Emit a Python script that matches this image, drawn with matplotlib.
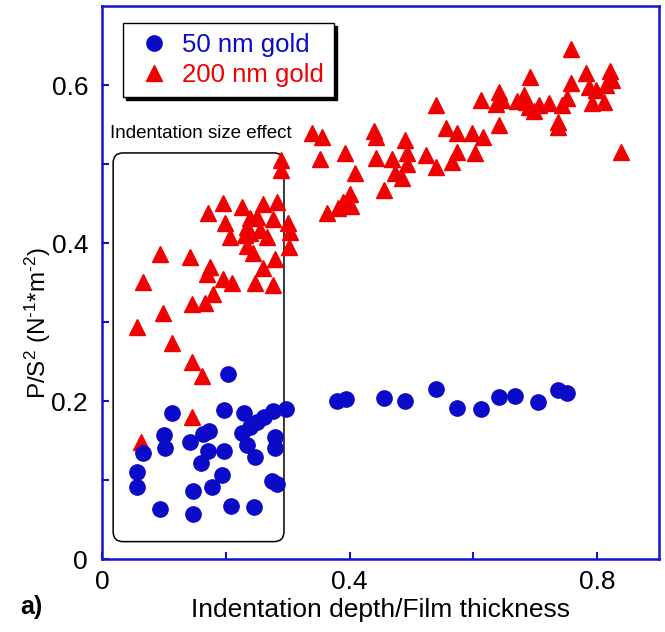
import matplotlib
matplotlib.use("Agg")
import matplotlib.pyplot as plt
import matplotlib.patches as mpatches
import numpy as np

plt.rcParams['font.family'] = ['Liberation Sans', 'DejaVu Sans']
plt.rcParams['mathtext.fontset'] = 'custom'
plt.rcParams['mathtext.rm'] = 'Liberation Sans'
plt.rcParams['mathtext.it'] = 'Liberation Sans:italic'

BLUE = "#0a0ac8"
RED = "#f00000"
SPINE = "#1414c8"

# 50 nm gold (circles)
x50 = [0.203, 0.113, 0.197, 0.229, 0.298, 0.276, 0.261, 0.250, 0.239, 0.226,
       0.173, 0.163, 0.100, 0.102, 0.142, 0.066, 0.171, 0.197, 0.234, 0.279,
       0.279, 0.247, 0.160, 0.056, 0.056, 0.194, 0.177, 0.274, 0.282, 0.147,
       0.094, 0.147, 0.208, 0.245,
       0.379, 0.394, 0.455, 0.489, 0.539, 0.573, 0.613, 0.642, 0.668, 0.705,
       0.737, 0.752]
y50 = [0.234, 0.185, 0.189, 0.185, 0.190, 0.187, 0.180, 0.174, 0.167, 0.159,
       0.162, 0.158, 0.157, 0.141, 0.148, 0.134, 0.137, 0.137, 0.144, 0.154,
       0.140, 0.129, 0.122, 0.110, 0.091, 0.106, 0.091, 0.099, 0.095, 0.086,
       0.063, 0.057, 0.067, 0.066,
       0.200, 0.203, 0.204, 0.200, 0.215, 0.191, 0.190, 0.205, 0.206, 0.199,
       0.214, 0.210]

# 200 nm gold (triangles)
x200 = [0.063, 0.145, 0.161, 0.145, 0.113, 0.056, 0.098, 0.145, 0.166, 0.179,
        0.066, 0.195, 0.210, 0.247, 0.277, 0.094, 0.142, 0.174, 0.169, 0.260,
        0.279, 0.235, 0.244, 0.302, 0.206, 0.231, 0.266, 0.234, 0.239, 0.255,
        0.303, 0.198, 0.239, 0.250, 0.276, 0.300, 0.171, 0.195, 0.227, 0.260,
        0.282, 0.290, 0.290,
        0.339, 0.355, 0.352, 0.392, 0.440, 0.442, 0.408, 0.442, 0.468, 0.489,
        0.492, 0.492, 0.474, 0.485, 0.456, 0.524, 0.539, 0.540, 0.556, 0.574,
        0.573, 0.566, 0.598, 0.603, 0.400, 0.389, 0.381, 0.403, 0.363,
        0.615, 0.613, 0.642, 0.637, 0.647, 0.671, 0.682, 0.692, 0.685, 0.698,
        0.706, 0.723, 0.744, 0.752, 0.758, 0.758, 0.782, 0.821, 0.787, 0.798,
        0.815, 0.824, 0.792, 0.811, 0.642, 0.737, 0.737, 0.839, 0.690]
y200 = [0.148, 0.180, 0.232, 0.249, 0.273, 0.294, 0.311, 0.323, 0.324, 0.335,
        0.351, 0.354, 0.349, 0.349, 0.347, 0.386, 0.382, 0.370, 0.361, 0.368,
        0.380, 0.396, 0.387, 0.395, 0.408, 0.410, 0.408, 0.420, 0.413, 0.416,
        0.414, 0.425, 0.432, 0.433, 0.430, 0.425, 0.438, 0.451, 0.446, 0.449,
        0.452, 0.505, 0.492,
        0.539, 0.534, 0.506, 0.514, 0.542, 0.534, 0.489, 0.508, 0.506, 0.530,
        0.514, 0.500, 0.489, 0.482, 0.467, 0.511, 0.496, 0.575, 0.546, 0.539,
        0.515, 0.503, 0.539, 0.514, 0.462, 0.452, 0.444, 0.447, 0.438,
        0.534, 0.581, 0.591, 0.576, 0.581, 0.580, 0.587, 0.610, 0.578, 0.567,
        0.575, 0.577, 0.575, 0.584, 0.646, 0.603, 0.615, 0.618, 0.597, 0.594,
        0.600, 0.606, 0.577, 0.578, 0.549, 0.553, 0.547, 0.515, 0.572]

fig = plt.figure(figsize=(6.65, 6.32), dpi=100)
ax = fig.add_axes([0.1534, 0.1155, 0.8376, 0.875])

ax.plot(x200, y200, '^', color=RED, ms=11, mec=RED, ls='none', label="200 nm gold", zorder=3)
ax.plot(x50, y50, 'o', color=BLUE, ms=11, mec=BLUE, ls='none', label="50 nm gold", zorder=4)

# indentation size effect box
box = mpatches.FancyBboxPatch((0.018, 0.022), 0.276, 0.492,
                              boxstyle="round,pad=0,rounding_size=0.016",
                              mutation_aspect=620 / 790, fc='none', ec='black',
                              lw=1.1, zorder=2)
ax.add_patch(box)
ax.text(0.013, 0.539, "Indentation size effect", fontsize=13.5, ha='left', va='center')

ax.set_xlim(0, 0.9)
ax.set_ylim(0, 0.7)
ax.set_xticks([0, 0.4, 0.8])
ax.set_xticklabels(["0", "0.4", "0.8"])
ax.set_xticks([0.2, 0.6], minor=True)
ax.set_yticks([0, 0.2, 0.4, 0.6])
ax.set_yticklabels(["0", "0.2", "0.4", "0.6"])
ax.set_yticks([0.1, 0.3, 0.5], minor=True)
for s in ax.spines.values():
    s.set_color(SPINE); s.set_linewidth(1.8)
ax.tick_params(which='both', direction='in', length=5, width=1.5, color=SPINE,
               labelsize=19, top=False, right=False)
ax.tick_params(axis='y', pad=10)
ax.tick_params(axis='x', pad=8)

ax.set_xlabel("Indentation depth/Film thickness", fontsize=19, labelpad=3)
ax.set_ylabel(r"P/S$^{\mathrm{2}}$ (N$^{\text{-}1}$*m$^{\text{-}2}$)", fontsize=17.5)
ax.yaxis.set_label_coords(-0.088, 0.427)

h, l = ax.get_legend_handles_labels()
leg = ax.legend(h[::-1], l[::-1], loc='upper left', bbox_to_anchor=(0.038, 0.969),
                borderaxespad=0, fontsize=18.5, fancybox=False, framealpha=1,
                edgecolor='black', handletextpad=0.3, borderpad=0.4, labelspacing=0.2,
                handlelength=1.6, shadow={'color': 'black', 'alpha': 1.0})
leg.get_frame().set_linewidth(1.0)
for t, c in zip(leg.get_texts(), [BLUE, RED]):
    t.set_color(c)

fig.text(0.03, 0.04, "a)", fontsize=18, fontweight='bold', ha='left', va='center')

fig.savefig("out.png", dpi=100)
